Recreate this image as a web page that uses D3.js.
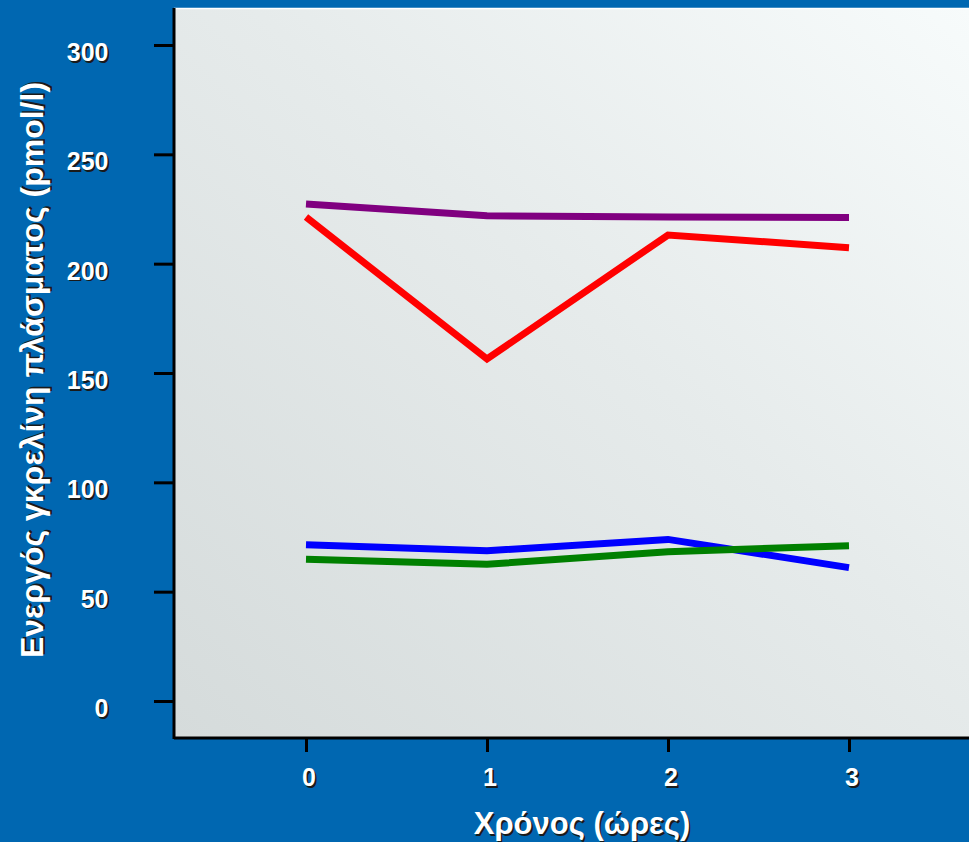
<!DOCTYPE html>
<html>
<head>
<meta charset="utf-8">
<script src="https://cdn.jsdelivr.net/npm/d3@7"></script>
<style>
  html, body { margin: 0; padding: 0; background: #0067b1; }
  svg { display: block; }
  text { font-family: "Liberation Sans", Arial, sans-serif; font-weight: bold; }
</style>
</head>
<body>
<script>
// Hours after the meal
const hours = [0, 1, 2, 3];
// Active ghrelin (pmol/l) per group
const purpleSeries = [227.3, 221.9, 221.3, 221.1];
const redSeries    = [221.3, 156.4, 213.1, 207.3];
const blueSeries   = [71.5, 68.7, 73.9, 61.0];
const greenSeries  = [64.8, 62.5, 68.3, 71.0];
const yTicks = [0, 50, 100, 150, 200, 250, 300];
const xTicks = [0, 1, 2, 3];
const yTitle = "Ενεργός γκρελίνη πλάσματος (pmol/l)";
const xTitle = "Χρόνος (ώρες)";

const series = [
  { values: purpleSeries, color: "#800080" },
  { values: redSeries,    color: "#ff0000" },
  { values: blueSeries,   color: "#0000ff" },
  { values: greenSeries,  color: "#008000" }
];

const W = 969, H = 842;
const plot = { left: 174, top: 8, right: 969, bottom: 738 };

const x = d3.scaleLinear().domain([0, 3]).range([306, 849]);
const y = d3.scaleLinear().domain([0, 300]).range([701, 45]);

const svg = d3.select("body").append("svg").attr("width", W).attr("height", H);

const defs = svg.append("defs");
const grad = defs.append("linearGradient")
  .attr("id", "plotBg")
  .attr("x1", "0%").attr("y1", "100%").attr("x2", "100%").attr("y2", "0%");
grad.append("stop").attr("offset", "0%").attr("stop-color", "#d5dbdb");
grad.append("stop").attr("offset", "55%").attr("stop-color", "#e6ebeb");
grad.append("stop").attr("offset", "100%").attr("stop-color", "#f7fbfb");

svg.append("rect").attr("width", W).attr("height", H).attr("fill", "#0067b1");

svg.append("rect")
  .attr("x", plot.left).attr("y", plot.top)
  .attr("width", plot.right - plot.left).attr("height", plot.bottom - plot.top)
  .attr("fill", "url(#plotBg)");

// thin light edge along the top of the plot panel
svg.append("line")
  .attr("x1", plot.left).attr("x2", plot.right)
  .attr("y1", plot.top + 0.5).attr("y2", plot.top + 0.5)
  .attr("stroke", "#ffffff").attr("stroke-width", 1.5);

// Text with a dark drop shadow
function shadowText(g, txt, attrs) {
  const s = g.append("text").text(txt).attr("fill", "#1a1a1a");
  const t = g.append("text").text(txt).attr("fill", "#ffffff");
  for (const k in attrs) { s.attr(k, attrs[k]); t.attr(k, attrs[k]); }
  s.attr("dx", 1.6).attr("dy", 1.6);
  return t;
}

// Y axis
const yAxis = d3.axisLeft(y).tickValues(yTicks).tickSize(20).tickFormat("");
const yg = svg.append("g").attr("transform", `translate(${plot.left},0)`).call(yAxis);
yg.select(".domain").remove();
yg.selectAll(".tick line").attr("stroke", "#000").attr("stroke-width", 3);
yTicks.forEach(v => {
  shadowText(svg, String(v), {
    x: 108.5, y: y(v) + 16, "text-anchor": "end", "font-size": "25px"
  });
});

// X axis
const xAxis = d3.axisBottom(x).tickValues(xTicks).tickSize(14).tickFormat("");
const xg = svg.append("g").attr("transform", `translate(0,${plot.bottom})`).call(xAxis);
xg.select(".domain").remove();
xg.selectAll(".tick line").attr("stroke", "#000").attr("stroke-width", 3);
xTicks.forEach(v => {
  shadowText(svg, String(v), {
    x: x(v) + 3, y: 786, "text-anchor": "middle", "font-size": "25px"
  });
});

// Axis lines
svg.append("line")
  .attr("x1", plot.left).attr("x2", plot.left)
  .attr("y1", plot.top).attr("y2", plot.bottom + 1)
  .attr("stroke", "#000").attr("stroke-width", 3);
svg.append("line")
  .attr("x1", plot.left).attr("x2", plot.right)
  .attr("y1", plot.bottom).attr("y2", plot.bottom)
  .attr("stroke", "#000").attr("stroke-width", 3);

// Series lines
const line = d3.line().x((d, i) => x(hours[i])).y(d => y(d));
series.forEach(s => {
  svg.append("path")
    .attr("d", line(s.values))
    .attr("fill", "none")
    .attr("stroke", s.color)
    .attr("stroke-width", 7)
    .attr("stroke-linejoin", "miter");
});

// Axis titles
shadowText(svg, xTitle, {
  x: 582, y: 834, "text-anchor": "middle", "font-size": "31px"
});
const yt = svg.append("g").attr("transform", "translate(43,370) rotate(-90)");
shadowText(yt, yTitle, {
  x: 0, y: 0, "text-anchor": "middle", "font-size": "32px"
});
</script>
</body>
</html>
